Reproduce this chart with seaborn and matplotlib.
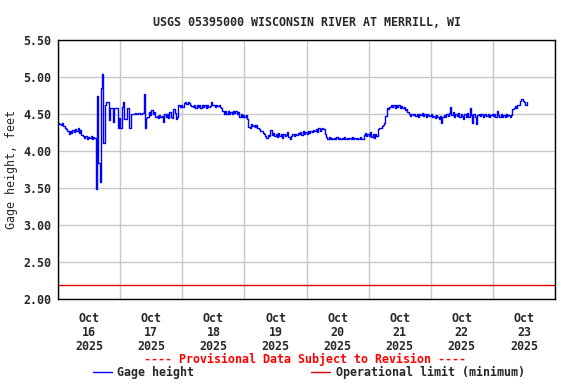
import pandas as pd
import matplotlib
matplotlib.use("Agg")
import matplotlib.pyplot as plt
import matplotlib.dates as mdates
from matplotlib.lines import Line2D
import seaborn as sns

# 30-minute gage height readings, starting Oct 16 2025 00:00
start_time = "2025-10-16 00:00"
gage_height = [
    # Oct 16
    4.38, 4.37, 4.36, 4.38, 4.34, 4.32, 4.30, 4.27, 4.23, 4.27, 4.25, 4.29,
    4.26, 4.30, 4.27, 4.31, 4.25, 4.29, 4.22, 4.20, 4.18, 4.20, 4.17, 4.19,
    4.18, 4.20, 4.17, 4.19, 4.18, 3.49, 4.75, 3.84, 3.59, 4.85, 5.05, 4.11,
    4.62, 4.66, 4.66, 4.42, 4.58, 4.58, 4.40, 4.58, 4.58, 4.58, 4.31, 4.45,
    # Oct 17
    4.31, 4.60, 4.67, 4.43, 4.44, 4.59, 4.58, 4.32, 4.51, 4.51, 4.51, 4.52,
    4.51, 4.51, 4.52, 4.51, 4.51, 4.52, 4.77, 4.31, 4.45, 4.47, 4.53, 4.49,
    4.56, 4.50, 4.53, 4.47, 4.48, 4.45, 4.49, 4.46, 4.48, 4.40, 4.51, 4.46,
    4.50, 4.45, 4.53, 4.47, 4.45, 4.57, 4.52, 4.44, 4.46, 4.63, 4.60, 4.62,
    # Oct 18
    4.60, 4.65, 4.66, 4.64, 4.67, 4.65, 4.63, 4.61, 4.60, 4.62, 4.59, 4.62,
    4.60, 4.63, 4.59, 4.62, 4.60, 4.63, 4.58, 4.62, 4.60, 4.61, 4.66, 4.62,
    4.62, 4.60, 4.63, 4.61, 4.62, 4.60, 4.58, 4.55, 4.51, 4.54, 4.50, 4.55,
    4.51, 4.53, 4.50, 4.55, 4.52, 4.54, 4.51, 4.53, 4.47, 4.50, 4.46, 4.49,
    # Oct 19
    4.47, 4.49, 4.44, 4.33, 4.31, 4.37, 4.34, 4.36, 4.33, 4.35, 4.31, 4.30,
    4.28, 4.27, 4.25, 4.23, 4.20, 4.18, 4.22, 4.21, 4.29, 4.22, 4.25, 4.20,
    4.24, 4.19, 4.25, 4.21, 4.23, 4.18, 4.24, 4.20, 4.22, 4.26, 4.19, 4.17,
    4.20, 4.23, 4.21, 4.24, 4.22, 4.25, 4.23, 4.26, 4.22, 4.27, 4.24, 4.26,
    # Oct 20
    4.24, 4.27, 4.25, 4.28, 4.26, 4.29, 4.27, 4.30, 4.26, 4.31, 4.28, 4.30,
    4.31, 4.30, 4.24, 4.19, 4.17, 4.19, 4.17, 4.18, 4.16, 4.18, 4.17, 4.19,
    4.17, 4.18, 4.16, 4.18, 4.17, 4.19, 4.16, 4.18, 4.17, 4.18, 4.16, 4.19,
    4.17, 4.18, 4.16, 4.18, 4.17, 4.19, 4.17, 4.16, 4.22, 4.25, 4.20, 4.24,
    # Oct 21
    4.21, 4.26, 4.19, 4.24, 4.18, 4.23, 4.20, 4.30, 4.32, 4.31, 4.34, 4.36,
    4.38, 4.48, 4.58, 4.57, 4.60, 4.63, 4.60, 4.62, 4.59, 4.63, 4.60, 4.62,
    4.59, 4.61, 4.58, 4.60, 4.56, 4.57, 4.53, 4.50, 4.48, 4.51, 4.49, 4.50,
    4.48, 4.51, 4.47, 4.50, 4.49, 4.52, 4.48, 4.50, 4.47, 4.51, 4.49, 4.48,
    # Oct 22
    4.50, 4.46, 4.48, 4.45, 4.49, 4.47, 4.43, 4.48, 4.38, 4.46, 4.49, 4.47,
    4.50, 4.48, 4.52, 4.60, 4.49, 4.53, 4.46, 4.50, 4.48, 4.52, 4.47, 4.50,
    4.48, 4.43, 4.51, 4.47, 4.52, 4.46, 4.58, 4.49, 4.38, 4.50, 4.47, 4.37,
    4.49, 4.51, 4.48, 4.50, 4.47, 4.49, 4.51, 4.48, 4.50, 4.47, 4.49, 4.50,
    # Oct 23
    4.48, 4.50, 4.47, 4.55, 4.49, 4.47, 4.50, 4.46, 4.49, 4.47, 4.50, 4.48,
    4.49, 4.47, 4.49, 4.57, 4.58, 4.61, 4.59, 4.63, 4.62, 4.68, 4.70, 4.68,
    4.66, 4.63, 4.66,
]
operational_limit = 2.19
y_ticks = [2.00, 2.50, 3.00, 3.50, 4.00, 4.50, 5.00, 5.50]
x_start = "2025-10-16"
x_end = "2025-10-24"

df = pd.DataFrame({
    "time": pd.date_range(start_time, periods=len(gage_height), freq="30min"),
    "gage": gage_height,
})

sns.set_style("white")
plt.rcParams["font.family"] = ["DejaVu Sans Mono"]
plt.rcParams["font.weight"] = "bold"
plt.rcParams["font.size"] = 8.4

fig = plt.figure(figsize=(5.76, 3.84), dpi=100)
ax = fig.add_axes([0.101, 0.2206, 0.8625, 0.6745])

# gage series drawn as steps, like the USGS 15-min plot
sns.lineplot(data=df, x="time", y="gage", ax=ax, color="#0000ff",
             linewidth=1.0, estimator=None, drawstyle="steps-post")
ax.axhline(operational_limit, color="#e00000", linewidth=1.0)

ax.set_xlim(pd.Timestamp(x_start), pd.Timestamp(x_end))
ax.set_ylim(y_ticks[0], y_ticks[-1])
ax.set_yticks(y_ticks)
ax.set_yticklabels([f"{v:.2f}" for v in y_ticks])

ax.xaxis.set_major_locator(mdates.DayLocator())
ax.xaxis.set_major_formatter(plt.NullFormatter())
ax.xaxis.set_minor_locator(mdates.HourLocator(byhour=12))
ax.xaxis.set_minor_formatter(mdates.DateFormatter("%b\n%d\n%Y"))
ax.tick_params(axis="x", which="both", length=0, pad=9)
ax.tick_params(axis="y", length=0, pad=5)
for lbl in ax.get_xticklabels(minor=True):
    lbl.set_linespacing(1.1)

ax.grid(True, which="major", color="#c8c8c8", linewidth=1.0)
ax.set_axisbelow(True)
for sp in ax.spines.values():
    sp.set_color("black")
    sp.set_linewidth(1.0)

ax.set_xlabel("")
ax.set_ylabel("Gage height, feet", labelpad=4)
fig.suptitle("USGS 05395000 WISCONSIN RIVER AT MERRILL, WI",
             x=0.533, y=0.958, fontsize=8.4, fontweight="bold")

fig.text(0.53, 0.065, "---- Provisional Data Subject to Revision ----",
         color="#ff0000", ha="center", va="center", fontsize=8.4,
         fontweight="bold")

handles = [Line2D([], [], color="#0000ff", linewidth=1.0),
           Line2D([], [], color="#e00000", linewidth=1.0)]
fig.legend(handles, ["Gage height", "Operational limit (minimum)"],
           loc="center", bbox_to_anchor=(0.536, 0.029), ncol=2,
           frameon=False, handlelength=1.6, handletextpad=0.5,
           columnspacing=10.0, borderpad=0, fontsize=8.4)

fig.savefig("out.png", dpi=100)
